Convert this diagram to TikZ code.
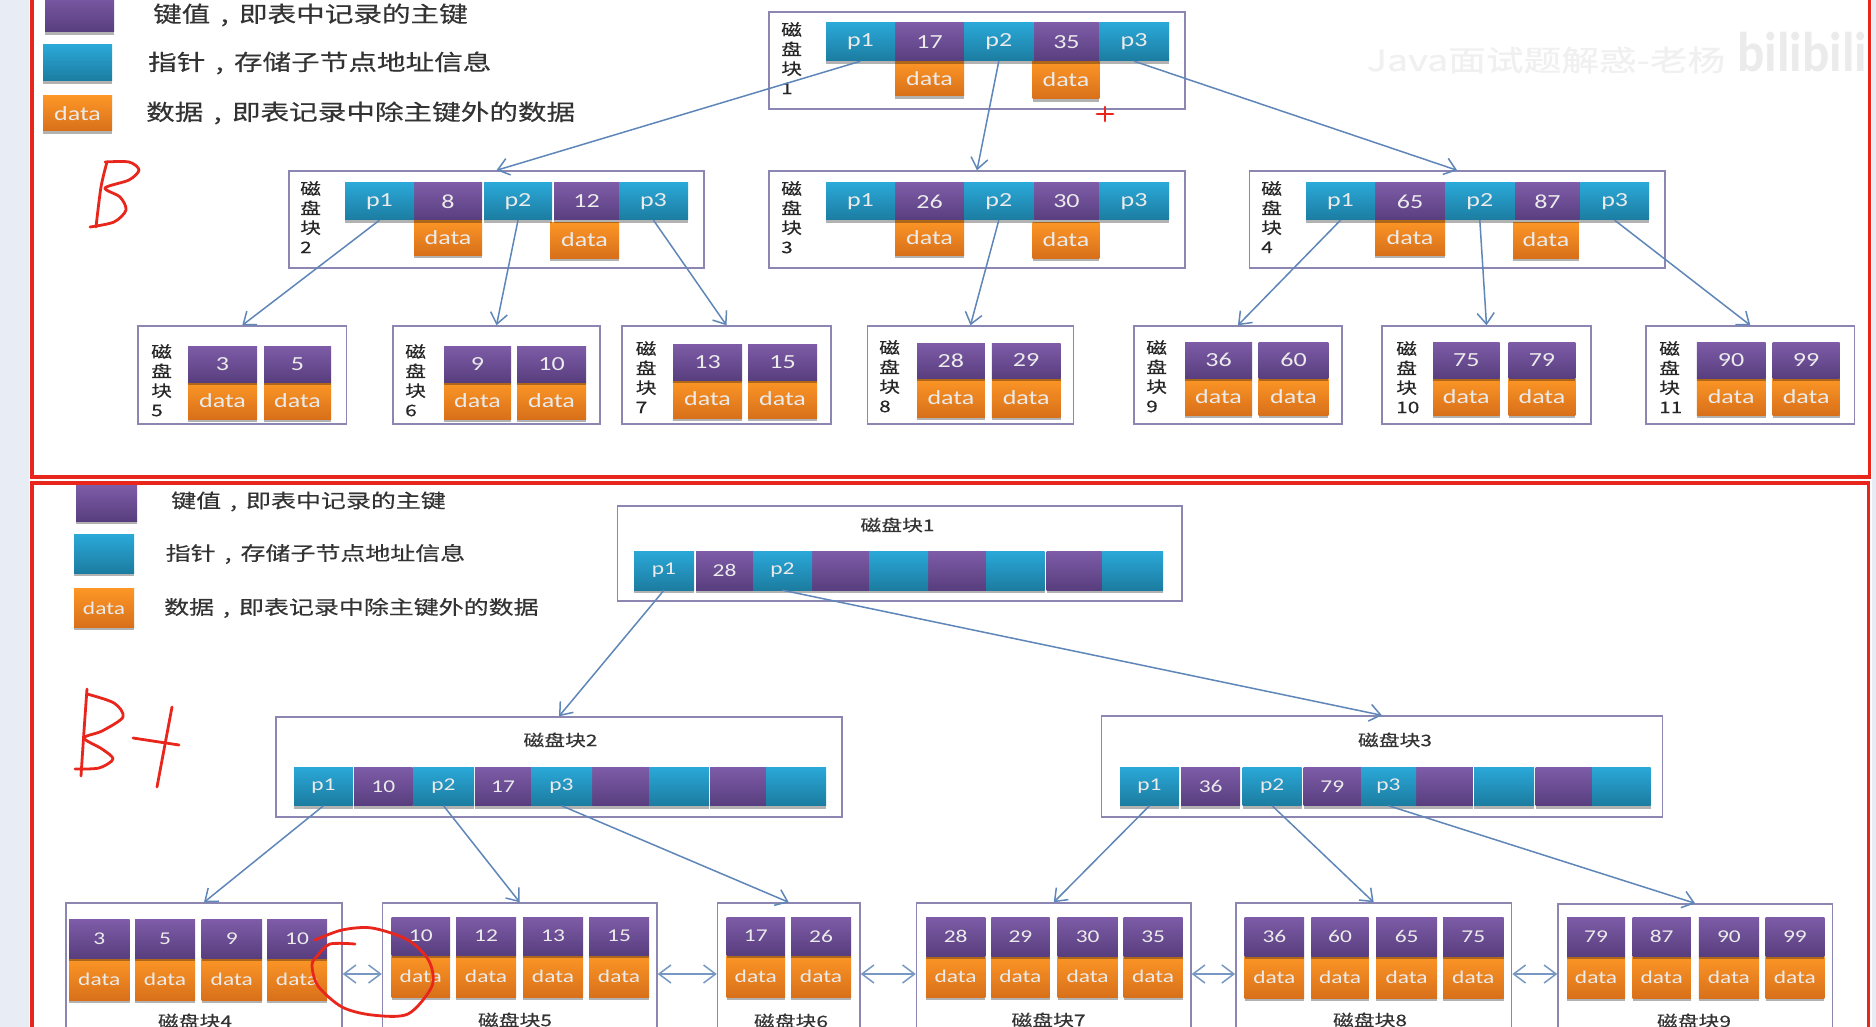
\documentclass[tikz,border=0pt]{standalone}
\usepackage{fontspec}
\setmainfont[FakeStretch=1.3]{Carlito}
\newfontfamily\cjk[FakeStretch=1.3, FakeBold=0.35]{Noto Sans CJK SC}
\usetikzlibrary{arrows.meta, shadows}

\definecolor{framered}{HTML}{E8261C}
\definecolor{boxline}{HTML}{8C86B2}
\definecolor{linkblue}{HTML}{5F86B8}
\definecolor{pageside}{HTML}{E8EDF5}

\tikzset{
	cellbase/.style = {inner sep = 0pt, text = white!92!black, drop shadow = {shadow xshift = 0pt, shadow yshift = -3pt, opacity = 0.3, fill = black}},
	keycell/.style = {cellbase, top color = {rgb,255:red,126;green,92;blue,168}, bottom color = {rgb,255:red,88;green,62;blue,126}},
	ptrcell/.style = {cellbase, top color = {rgb,255:red,42;green,168;blue,216}, bottom color = {rgb,255:red,28;green,124;blue,160}},
	datacell/.style = {cellbase, top color = {rgb,255:red,252;green,150;blue,38}, bottom color = {rgb,255:red,216;green,112;blue,26}},
	upper/.style = {font = \fontsize{20}{24}\selectfont},
	lower/.style = {font = \fontsize{18}{22}\selectfont},
	block/.style = {draw = boxline, line width = 1.4pt, inner sep = 0pt},
	link/.style = {draw = linkblue, line width = 1.5pt, -{Straight Barb[length = 11pt, width = 17pt]}},
	twoway/.style = {draw = linkblue!85!white, line width = 1.5pt, {Straight Barb[length = 12pt, width = 18pt]}-{Straight Barb[length = 12pt, width = 18pt]}},
	legendtext/.style = {anchor = west, inner sep = 0pt, text = black!80, font = \cjk\fontsize{22}{26}\selectfont},
	legendtextb/.style = {anchor = west, inner sep = 0pt, text = black!80, font = \cjk\fontsize{19.2}{23}\selectfont},
	blocktitle/.style = {inner sep = 0pt, text = black!80, font = \cjk\fontsize{16}{20}\selectfont},
	sidelabel/.style = {anchor = north west, inner sep = 0pt, align = left, text = black!85, font = \cjk\fontsize{16}{20}\selectfont},
	ink/.style = {draw = framered, line width = 2.8pt, line cap = round, line join = round}
}

% style, name prefix, top, bottom, list of name/left/right/text
\newcommand{\cellrow}[5]{%
	\foreach \n/\a/\b/\t in {#5}
	\node[#1, minimum width = {(\b-\a)*1pt}, minimum height = {(#4-#3)*1pt}] (#2\n) at ({(\a+\b)/2}, {(#3+#4)/2}) {\t\hspace{6pt}};
}
% name, left, top, right, bottom
\newcommand{\blockbox}[5]{%
	\node[block, minimum width = {(#4-#2)*1pt}, minimum height = {(#5-#3)*1pt}] (#1) at ({(#2+#4)/2}, {(#3+#5)/2}) {};
}
% side label of the upper tree: name, left, top, number
\newcommand{\sidetag}[4]{%
	\node[sidelabel] (#1) at (#2, #3) {磁\\[-0.5pt]盘\\[-0.5pt]块\\[-0.5pt]#4};
}
\newcommand{\midcomma}{\makebox[1.3em][c]{,}}

\begin{document}
\begin{tikzpicture}[x = 1pt, y = -1pt]
	\useasboundingbox (0, 0) rectangle (1876, 1027);
	\clip (0, 0) rectangle (1876, 1027);
	\fill[white] (0, 0) rectangle (1876, 1027);
	\fill[pageside] (0, 0) rectangle (29, 1027);
	\fill[pageside] (1872, 0) rectangle (1876, 1027);

	% watermark
	\node[inner sep = 0pt, text = black!6, font = \cjk\fontsize{29}{34}\selectfont] (mark) at (1546, 60) {Java面试题解惑-老杨};
	\node[inner sep = 0pt, text = black!8, font = \bfseries\fontsize{56}{60}\selectfont] (site) at (1802, 52) {\scalebox{0.7}[1]{bilibili}};

	% frames
	\draw[framered, line width = 3.5pt] (32, -5) -- (32, 477) -- (1869.5, 477) -- (1869.5, -5);
	\draw[framered, line width = 3.5pt] (32, 1035) -- (32, 483) -- (1868.5, 483) -- (1868.5, 1035);

	% B tree legend
	\node[keycell, minimum width = 69pt, minimum height = 40pt] (legkey) at (79.5, 12) {};
	\node[ptrcell, minimum width = 69pt, minimum height = 36pt] (legptr) at (77.5, 63) {};
	\node[datacell, upper, minimum width = 69pt, minimum height = 35pt] (legdata) at (77.5, 113.5) {data\hspace{6pt}};
	\node[legendtext] (legkeytxt) at (153, 15) {键值\midcomma 即表中记录的主键};
	\node[legendtext] (legptrtxt) at (148, 63) {指针\midcomma 存储子节点地址信息};
	\node[legendtext] (legdatatxt) at (146, 113) {数据\midcomma 即表记录中除主键外的数据};

	% B tree blocks
	\blockbox{b1}{769}{12}{1185}{109}
	\blockbox{b2}{289}{171}{704}{268}
	\blockbox{b3}{769}{171}{1185}{268}
	\blockbox{b4}{1249.2}{171}{1665}{268}
	\blockbox{b5}{138}{326}{346.5}{424}
	\blockbox{b6}{393}{326}{600}{424}
	\blockbox{b7}{622}{326}{831}{424}
	\blockbox{b8}{867.5}{326}{1073.4}{424}
	\blockbox{b9}{1134}{326}{1341.8}{424}
	\blockbox{b10}{1382}{326}{1591}{424}
	\blockbox{b11}{1646}{326}{1854.6}{424}

	\sidetag{t1}{781}{22}{1}
	\sidetag{t2}{300}{181}{2}
	\sidetag{t3}{781}{181}{3}
	\sidetag{t4}{1261}{181}{4}
	\sidetag{t5}{151}{344}{5}
	\sidetag{t6}{405}{344}{6}
	\sidetag{t7}{635.5}{341}{7}
	\sidetag{t8}{879}{340}{8}
	\sidetag{t9}{1146}{340}{9}
	\sidetag{t10}{1396}{341}{10}
	\sidetag{t11}{1659}{341}{11}

	% B tree cells, the data goes first so that the keys lie on its shadow
	\tikzset{every node/.append style = {upper}}
	\cellrow{datacell}{b1d}{61}{96}{1/895/964/data}
	\cellrow{datacell}{b1d}{61}{99}{2/1032.6/1099.3/data}
	\cellrow{keycell}{b1k}{23}{61}{1/895/964/17, 2/1033.6/1099.3/35}
	\cellrow{ptrcell}{b1p}{23}{61}{1/826/895/p1, 2/964/1033.6/p2, 3/1099.3/1169/p3}

	\cellrow{datacell}{b2d}{220}{255}{1/414/482/data}
	\cellrow{datacell}{b2d}{222}{258}{2/550/619/data}
	\cellrow{keycell}{b2k}{183}{220}{1/414/482/8, 2/554/619/12}
	\cellrow{ptrcell}{b2p}{183}{220}{1/345/414/p1, 2/484/552/p2, 3/619/688/p3}

	\cellrow{datacell}{b3d}{220}{255}{1/895/964/data}
	\cellrow{datacell}{b3d}{222}{258}{2/1032.6/1099.3/data}
	\cellrow{keycell}{b3k}{183}{220}{1/895/964/26, 2/1033.6/1099.3/30}
	\cellrow{ptrcell}{b3p}{183}{220}{1/826/895/p1, 2/964/1033.6/p2, 3/1099.3/1169/p3}

	\cellrow{datacell}{b4d}{220}{255}{1/1375/1445/data}
	\cellrow{datacell}{b4d}{222}{258}{2/1513/1578.8/data}
	\cellrow{keycell}{b4k}{183}{220}{1/1375/1445/65, 2/1514.6/1580.3/87}
	\cellrow{ptrcell}{b4p}{183}{220}{1/1306/1375/p1, 2/1445/1514.6/p2, 3/1580.3/1649/p3}

	\cellrow{datacell}{b5d}{382}{419}{1/188/257/data, 2/264/331/data}
	\cellrow{keycell}{b5k}{346}{382}{1/188/257/3, 2/264/331/5}
	\cellrow{datacell}{b6d}{382}{419}{1/444/511/data, 2/517/586/data}
	\cellrow{keycell}{b6k}{346}{382}{1/444/511/9, 2/517/586/10}
	\cellrow{datacell}{b7d}{380}{418}{1/673/742/data, 2/748/817/data}
	\cellrow{keycell}{b7k}{344}{380}{1/673/742/13, 2/748/817/15}
	\cellrow{datacell}{b8d}{378}{417}{1/917/984.8/data, 2/991.8/1060.5/data}
	\cellrow{keycell}{b8k}{343}{378}{1/917/984.8/28, 2/991.8/1060.5/29}
	\cellrow{datacell}{b9d}{378}{415}{1/1185/1252/data, 2/1258.7/1328.4/data}
	\cellrow{keycell}{b9k}{342}{378}{1/1185/1252/36, 2/1258.7/1328.4/60}
	\cellrow{datacell}{b10d}{378}{415}{1/1433/1499.6/data, 2/1508.6/1575.3/data}
	\cellrow{keycell}{b10k}{342}{378}{1/1433/1499.6/75, 2/1508.6/1575.3/79}
	\cellrow{datacell}{b11d}{378}{415}{1/1696.8/1765.5/data, 2/1772.5/1839.7/data}
	\cellrow{keycell}{b11k}{342}{378}{1/1696.8/1765.5/90, 2/1772.5/1839.7/99}

	% B tree links
	\draw[link] (b1p1.south) -- (b2.north);
	\draw[link] (b1p2.south) -- (b3.north);
	\draw[link] (b1p3.south) -- (b4.north);
	\draw[link] (b2p1.south) -- (b5.north);
	\draw[link] (b2p2.south) -- (b6.north);
	\draw[link] (b2p3.south) -- (b7.north);
	\draw[link] (b3p2.south) -- (b8.north);
	\draw[link] (b4p1.south) -- (b9.north);
	\draw[link] (b4p2.south) -- (b10.north);
	\draw[link] (b4p3.south) -- (b11.north);

	% B+ tree legend
	\tikzset{every node/.append style = {lower}}
	\node[keycell, minimum width = 61pt, minimum height = 36pt] (plegkey) at (106.5, 503) {};
	\node[ptrcell, minimum width = 60pt, minimum height = 38.5pt] (plegptr) at (104, 554) {};
	\node[datacell, minimum width = 60pt, minimum height = 38.5pt] (plegdata) at (104, 608) {data\hspace{6pt}};
	\node[legendtextb] (plegkeytxt) at (171, 501.5) {键值\midcomma 即表中记录的主键};
	\node[legendtextb] (plegptrtxt) at (165.5, 554) {指针\midcomma 存储子节点地址信息};
	\node[legendtextb] (plegdatatxt) at (164, 608) {数据\midcomma 即表记录中除主键外的数据};

	% B+ tree blocks
	\blockbox{c1}{617.5}{506}{1182}{601}
	\blockbox{c2}{276}{717}{842}{817}
	\blockbox{c3}{1101.3}{716}{1662.5}{817}
	\blockbox{c4}{66}{903}{342}{1045}
	\blockbox{c5}{382.5}{903}{657}{1045}
	\blockbox{c6}{717.5}{903}{860}{1045}
	\blockbox{c7}{916.5}{903}{1191}{1045}
	\blockbox{c8}{1235.8}{903}{1511.6}{1045}
	\blockbox{c9}{1558}{904}{1832.2}{1044}

	\node[blocktitle] (ct1) at (897.5, 525) {磁盘块1};
	\node[blocktitle] (ct2) at (560.5, 740) {磁盘块2};
	\node[blocktitle] (ct3) at (1395, 740) {磁盘块3};
	\node[blocktitle] (ct4) at (195, 1021) {磁盘块4};
	\node[blocktitle] (ct5) at (515, 1020) {磁盘块5};
	\node[blocktitle] (ct6) at (791, 1021) {磁盘块6};
	\node[blocktitle] (ct7) at (1048.5, 1020) {磁盘块7};
	\node[blocktitle] (ct8) at (1370, 1020) {磁盘块8};
	\node[blocktitle] (ct9) at (1694, 1021) {磁盘块9};

	% B+ tree cells
	\cellrow{keycell}{c1k}{551}{590}{1/696/753/28, 2/812/869/{}, 3/928/986/{}, 4/1046.6/1102.3/{}}
	\cellrow{ptrcell}{c1p}{551}{590}{1/634/694/p1, 2/753/812/p2, 3/869/928/{}, 4/986/1044.6/{}, 5/1102.3/1163/{}}

	\cellrow{keycell}{c2k}{767}{805.5}{1/354/412.5/10, 2/475/531/17, 3/592/649/{}, 4/710/766/{}}
	\cellrow{ptrcell}{c2p}{767}{805.5}{1/294/353/p1, 2/413/474/p2, 3/531/592/p3, 4/649/709/{}, 5/766/826/{}}

	\cellrow{keycell}{c3k}{767}{805.5}{1/1181/1240.2/36, 2/1303.5/1361/79, 3/1416/1472.8/{}, 4/1535.5/1592.2/{}}
	\cellrow{ptrcell}{c3p}{767}{805.5}{1/1120/1179/p1, 2/1242.7/1301.5/p2, 3/1361/1416/p3, 4/1474.2/1534/{}, 5/1592.2/1650.5/{}}

	\cellrow{datacell}{c4d}{958}{1000}{1/69/129.5/data, 2/135/195/data, 3/201.5/262/data, 4/267/327/data}
	\cellrow{keycell}{c4k}{919.5}{958}{1/69/129.5/3, 2/135/195/5, 3/201.5/262/9, 4/267/327/10}
	\cellrow{datacell}{c5d}{955}{997}{1/391.5/450/data, 2/456/516/data, 3/523/583/data, 4/589/649/data}
	\cellrow{keycell}{c5k}{917}{955}{1/391.5/450/10, 2/456/516/12, 3/523/583/13, 4/589/649/15}
	\cellrow{datacell}{c6d}{955}{997}{1/726.5/785/data, 2/791/851/data}
	\cellrow{keycell}{c6k}{917}{955}{1/726.5/785/17, 2/791/851/26}
	\cellrow{datacell}{c7d}{956}{997}{1/926/985.3/data, 2/991.3/1049.5/data, 3/1057.5/1117.8/data, 4/1123.7/1182.5/data}
	\cellrow{keycell}{c7k}{917}{956}{1/926/985.3/28, 2/991.3/1049.5/29, 3/1057.5/1117.8/30, 4/1123.7/1182.5/35}
	\cellrow{datacell}{c8d}{956}{998}{1/1244.7/1304/data, 2/1311.4/1368.7/data, 3/1376.2/1437/data, 4/1443/1503.5/data}
	\cellrow{keycell}{c8k}{917}{956}{1/1244.7/1304/36, 2/1311.4/1368.7/60, 3/1376.2/1437/65, 4/1443/1503.5/75}
	\cellrow{datacell}{c9d}{956}{998}{1/1567/1625/data, 2/1632.6/1690.8/data, 3/1698.8/1759/data, 4/1765.5/1824.3/data}
	\cellrow{keycell}{c9k}{917}{956}{1/1567/1625/79, 2/1632.6/1690.8/87, 3/1698.8/1759/90, 4/1765.5/1824.3/99}

	% B+ tree links
	\draw[link] (c1p1.south) -- (c2.north);
	\draw[link] (c1p2.south) -- (c3.north);
	\draw[link] (c2p1.south) -- (c4.north);
	\draw[link] (c2p2.south) -- (c5.north);
	\draw[link] (c2p3.south) -- (c6.north);
	\draw[link] (c3p1.south) -- (c7.north);
	\draw[link] (c3p2.south) -- (c8.north);
	\draw[link] (c3p3.south) -- (c9.north);

	\foreach \l/\r in {c4/c5, c5/c6, c6/c7, c7/c8, c8/c9}
	\draw[twoway] (\l.east) -- (\r.west);

	% handwriting
	\draw[ink] plot[smooth] coordinates {(107, 162) (101, 187) (96, 227)};
	\draw[ink] plot[smooth] coordinates {(105, 162) (129, 162) (139, 170) (129, 180) (105, 188) (120, 197) (126, 210) (114, 222) (90, 227)};
	\draw[ink] plot[smooth] coordinates {(87, 689) (84, 731) (81, 776)};
	\draw[ink] plot[smooth] coordinates {(87, 694) (114, 703) (123, 717) (102, 731) (84, 738) (102, 749) (113, 759) (99, 768) (75, 769)};
	\draw[ink] (133, 738) -- (179, 745);
	\draw[ink] (172, 707) -- (157, 787);
	\draw[ink] plot[smooth] coordinates {(355, 944) (330, 944) (318, 955) (312, 965) (318, 986) (342, 1007) (372, 1015) (408, 1014) (432, 986) (429, 961) (408, 940) (372, 928) (342, 930) (315, 940)};
	\draw[ink] (1097, 114) -- (1113, 114);
	\draw[ink] (1105, 107) -- (1105, 121);
\end{tikzpicture}
\end{document}
